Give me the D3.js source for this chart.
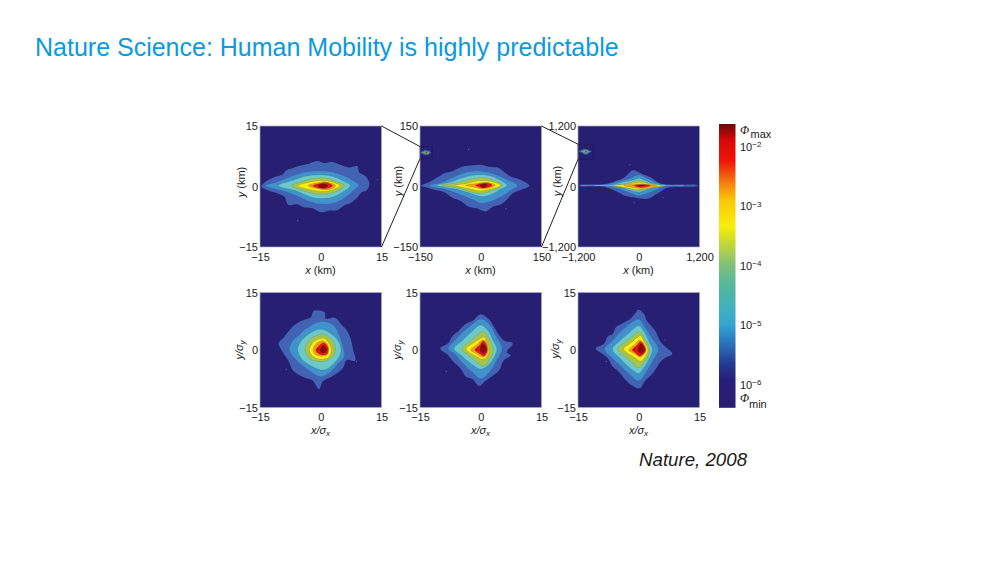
<!DOCTYPE html>
<html>
<head>
<meta charset="utf-8">
<script src="https://cdn.jsdelivr.net/npm/d3@7"></script>
<style>
  html, body { margin: 0; padding: 0; background: #fff; }
  text { font-family: "Liberation Sans", Arial, sans-serif; fill: #1a1a1a; }
</style>
</head>
<body>
<svg id="chart" width="1000" height="563"></svg>
<script>
// contour level colours, outermost first
var backgroundColor = "#261f72";
var levelColors = ["#4263b3", "#3f92cb", "#6cc9c9", "#a9c24b", "#f9ee11", "#f39a1c", "#e4161a", "#8a0c0c"];

var ticksKm15 = [-15, 0, 15];
var ticksKm150 = [-150, 0, 150];
var ticksKm1200 = [-1200, 0, 1200];
var ticksSigma = [-15, 0, 15];

// colorbar: [phi, colour]
var barTicks = [1e-2, 1e-3, 1e-4, 1e-5, 1e-6];
var phiMax = 10 ** -1.63, phiMin = 10 ** -6.4;
var barStops = [
  [10 ** -1.63, "#6e0808"], [10 ** -1.9, "#d80808"], [10 ** -2.25, "#ee1408"],
  [10 ** -2.66, "#f58a10"], [10 ** -2.92, "#f8c808"], [10 ** -3.34, "#f8ee0a"],
  [10 ** -3.58, "#cfdc2a"], [10 ** -4, "#80c07a"], [10 ** -4.3, "#58b89a"],
  [10 ** -4.75, "#40b0c0"], [10 ** -5, "#34a6d0"], [10 ** -5.34, "#2a70b8"],
  [10 ** -5.67, "#233a90"], [10 ** -5.92, "#271f78"], [10 ** -6.4, "#2a1f70"]
];

// contours in data units, level by level
var ringsKm15 = [
  [[-14.6,0.2],[-13,1.6],[-11,2.5],[-9.5,2.9],[-8.5,4],[-7,4.5],[-5,5.2],[-3,5.6],[-1,6.3],[1,5.8],[3,6.1],[5,5.3],[7,4.7],[9,5],[9.5,3.5],[11,2.6],[12,0.8],[11.5,-0.8],[10,-1.5],[9,-2.8],[7.5,-4],[6,-4.6],[4,-5.9],[2,-6],[0,-6.4],[-2,-5.4],[-4,-5.2],[-6,-4.4],[-8,-4.6],[-9,-2.5],[-11,-1.6],[-13,-1],[-14.6,-0.2]],
  [[-13.6,0.2],[-11,1],[-8.5,2],[-6,2.9],[-3.5,3.6],[0,3.8],[3,3.5],[5.5,2.7],[7.5,1.6],[9.3,0.4],[8,-1],[6,-2.7],[3,-4.1],[0,-4.3],[-3,-3.6],[-5.5,-2.5],[-8,-1.4],[-11,-0.6]],
  [[-10.5,0.2],[-7,1.5],[-3.5,2.6],[0,2.9],[3,2.5],[5.5,1.4],[7.3,0.2],[5.5,-1.3],[3,-2.6],[0,-3],[-3,-2.4],[-6,-1.1]],
  [[-7.2,0.2],[-4,1.4],[-1,2.1],[2,1.9],[4.3,1],[5.9,0.2],[4.3,-1],[2,-1.8],[-1,-1.9],[-4,-1.1]],
  [[-5.6,0.2],[-3,1],[0,1.5],[2.5,1.2],[4.7,0.2],[2.5,-0.9],[0,-1.2],[-3,-0.7]],
  [[-3.1,0.2],[-1,0.9],[1,1.2],[2.6,0.8],[3.7,0.2],[2.6,-0.6],[1,-0.8],[-1,-0.5]],
  [[-1.9,0.2],[0,0.8],[1.4,1],[2.9,0.2],[1.6,-0.5],[0,-0.5]],
  [[-0.7,0.2],[0.5,0.7],[1.8,0.2],[0.5,-0.4]]
];
var strayKm15 = [[-5.7,-8.5],[14,1.7]];

var ringsKm150 = [
  [[-148,2],[-125,12],[-105,24],[-90,33],[-70,38],[-50,48],[-25,52],[0,54],[20,49],[45,46],[60,34],[75,24],[95,18],[120,2],[100,-8],[80,-16],[65,-32],[50,-44],[30,-50],[12,-62],[-10,-54],[-30,-50],[-50,-36],[-70,-28],[-90,-14],[-115,-8],[-135,-2]],
  [[-125,2],[-95,10],[-75,20],[-50,30],[-20,37],[10,36],[40,28],[70,14],[90,3],[70,-12],[45,-28],[20,-38],[0,-41],[-25,-30],[-55,-18],[-85,-7]],
  [[-108,3],[-75,11],[-45,22],[-10,29],[25,26],[50,14],[65,3],[45,-9],[20,-22],[0,-25],[-25,-17],[-60,-7]],
  [[-96,3],[-60,9],[-30,17],[0,22],[25,18],[53,3],[25,-11],[0,-17],[-30,-12],[-60,-3]],
  [[-63,3],[-35,7],[-5,14],[20,13],[49,3],[22,-7],[0,-11],[-25,-6]],
  [[-38,3],[-15,7],[5,10],[22,9],[36,3],[20,-4],[5,-6],[-15,-2]],
  [[-13,3],[5,8],[15,9],[28,3],[15,-3],[0,-3]],
  [[-2,3],[7,7],[16,3],[7,-3]]
];
var strayKm150 = [[-30,92],[62,-55]];

var ringsKm1200 = [
  [[-1170,28],[-900,38],[-700,45],[-550,75],[-430,120],[-300,170],[-190,270],[-120,320],[-30,300],[90,240],[240,180],[360,95],[480,45],[700,30],[1160,30],[1160,8],[800,-5],[560,-25],[420,-110],[320,-170],[200,-240],[60,-245],[-80,-220],[-250,-190],[-380,-130],[-520,-60],[-700,-5],[-1170,12]],
  [[-1150,24],[-800,30],[-600,45],[-380,100],[-170,160],[0,230],[150,170],[320,85],[500,38],[900,26],[900,10],[500,2],[330,-70],[180,-130],[0,-180],[-160,-130],[-340,-60],[-600,5],[-1150,16]],
  [[-890,24],[-560,30],[-300,90],[-110,130],[0,165],[120,125],[320,50],[700,24],[340,8],[150,-70],[0,-110],[-170,-75],[-380,-10],[-890,16]],
  [[-590,20],[-300,50],[-100,100],[0,130],[120,90],[300,40],[565,20],[300,-25],[100,-65],[0,-80],[-150,-50],[-350,-10]],
  [[-490,20],[-250,40],[-50,75],[70,80],[240,50],[450,20],[240,-15],[70,-50],[-50,-60],[-250,-20]],
  [[-295,20],[-100,45],[60,55],[200,45],[365,20],[200,-15],[60,-40],[-100,-25]],
  [[-95,20],[50,40],[120,40],[235,20],[120,-10],[50,-20]],
  [[-40,20],[50,32],[135,20],[50,5]]
];
var strayKm1200 = [[-175,430],[480,-220],[-95,-320]];

var ringsSigmaA = [
  [[-10.4,1.8],[-9.2,3.2],[-7,6],[-5,7.5],[-2.4,8.6],[-1.8,10.2],[1,9.8],[1.2,8.2],[3.5,8.4],[5,6.8],[6.5,5],[7.5,2.5],[8,0],[8.5,-2.8],[6.4,-2.6],[5.5,-4.6],[3,-6.8],[0.5,-8.2],[-0.4,-10.2],[-2,-8],[-4,-7.2],[-6.8,-5.4],[-8,-2.8],[-9.5,-0.4]],
  [[-7.7,0.2],[-7,2.2],[-5.2,4],[-3.2,5.8],[0,7.4],[3,6.5],[4.6,3.6],[5.4,1],[5.8,-1.5],[4.2,-3.6],[2,-6],[0,-6.9],[-3,-5.2],[-5.4,-3.2],[-7,-1.4]],
  [[-5.7,0.2],[-4.8,2.4],[-2.6,4.4],[0,5.4],[2.6,4.2],[4.4,2.2],[5,-0.4],[4,-2.6],[1.8,-4.8],[0,-5.2],[-2.6,-4],[-4.8,-2.2]],
  [[-3.9,0.2],[-3.2,2.2],[-1.4,3.6],[0.6,4.2],[2.4,3],[3.6,0.8],[3.2,-1.4],[1.4,-2.8],[-0.6,-3],[-2.8,-2.2]],
  [[-2.8,0],[-2,1.8],[-0.6,2.8],[0.8,3],[2,1.8],[2.6,0],[2,-1.8],[0,-2.4],[-2,-1.6]],
  [[-1.9,0],[-1.2,1.6],[0.4,2.4],[1.6,1.6],[2,0],[1.4,-1.4],[0,-1.6],[-1.4,-1.1]],
  [[-1.2,0],[-0.2,1.4],[0.8,1.9],[1.8,0.6],[1.6,-1],[0.4,-1.3],[-0.8,-0.8]],
  [[-0.2,0],[0.6,1.2],[1.5,0.2],[0.6,-0.9]]
];
var straySigmaA = [[8.8,-3],[-8.5,-5]];
var spotsSigmaA = [[-0.8,0.1]];

var ringsSigmaB = [
  [[-10,0.4],[-8,1.8],[-7,3.6],[-5.6,4.8],[-4,6.6],[-2,7.6],[0,9.3],[2,8],[3.4,5.8],[4.6,3.8],[5.8,2.4],[7.9,1.8],[6.4,-0.6],[7.4,-1.4],[5.6,-2.8],[4.6,-5.2],[2.6,-7],[0.8,-8.4],[-0.4,-9.4],[-2,-7.6],[-3.6,-7],[-5,-4.8],[-6.8,-3],[-8.2,-1.2]],
  [[-8,0.4],[-6.2,2.6],[-4.4,4.6],[-2.4,6.4],[0,8],[2.2,6.6],[3.6,3.8],[5.2,0.4],[3.6,-3.2],[2.2,-5.6],[0,-7.4],[-2.4,-5.4],[-4.8,-3],[-6.4,-1]],
  [[-6.6,0.4],[-4.6,2.4],[-2.4,4.6],[0,6.5],[1.8,5],[3,2.6],[4,0.2],[3,-2.4],[1.6,-4.2],[0,-5],[-2.6,-3.4],[-4.8,-1.4]],
  [[-4.7,0.2],[-2.8,2.2],[-1,3.8],[0.6,4.8],[1.8,3.4],[3.1,0.2],[2.4,-2.2],[0.8,-4.2],[-1.2,-3],[-3,-1.4]],
  [[-3.6,0.2],[-1.8,1.8],[0,3],[0.8,3.3],[1.6,2],[2.1,0],[1.6,-1.6],[0.6,-2.4],[-1.2,-1.6]],
  [[-2.5,0],[-1,1.4],[0.4,2.6],[1.2,2.4],[1.9,0],[1.3,-1.4],[0.4,-1.9],[-1,-1]],
  [[-1.4,0],[-0.2,1.4],[0.6,2.4],[1.4,1.4],[1.6,-0.2],[0.8,-1.6],[-0.2,-1]],
  [[-0.2,0],[0.5,1.7],[1.5,0.2],[0.6,-1]]
];
var straySigmaB = [[7.6,1.2],[-8.5,-5.6]];
var spotsSigmaB = [[-1,0.1]];

var ringsSigmaC = [
  [[-10.6,0.4],[-8.6,1.6],[-7.6,3.6],[-6.4,4.2],[-5.6,6],[-4,7],[-2.2,8],[-1,9.4],[0,10.5],[1.4,9.2],[2,7.6],[3,6.4],[4.2,4.8],[5,2.8],[6,1.4],[8.3,-1],[6.6,-2],[5.4,-3],[4.4,-4.6],[3.2,-6.4],[1.6,-8],[0.2,-10],[-2,-9],[-3.4,-7.6],[-5.2,-5.4],[-6.4,-4.4],[-7.6,-2.2],[-9,-1]],
  [[-8.4,0.2],[-6.6,2.2],[-4.6,4.6],[-2.6,6.4],[0,8],[1.6,5.8],[3,3.4],[4.8,0.2],[3.4,-2.8],[1.6,-6],[0,-8],[-2.2,-6.4],[-4.6,-4],[-6.6,-2]],
  [[-6.5,0.2],[-4.4,2.6],[-2.2,4.6],[0,6.3],[1.4,4.6],[2.6,2],[3.4,0],[2.4,-2.6],[1,-5],[0,-6.1],[-2,-4.8],[-4.6,-2.2]],
  [[-5.2,0.2],[-3.2,2.2],[-1.2,3.8],[0.2,4.8],[1.4,3],[2.7,0],[2,-2.2],[0.8,-4],[0,-4.6],[-1.8,-3.2],[-3.8,-1.4]],
  [[-3.7,0.2],[-2,1.8],[-0.4,3.2],[0.4,3.7],[1.4,2],[2.3,0],[1.6,-1.6],[0.6,-2.9],[-1.2,-1.8]],
  [[-2.4,0],[-1,1.4],[0.2,2.6],[1.2,1.8],[1.9,0],[1.2,-1.2],[0.4,-1.9],[-1,-1]],
  [[-1.6,0],[-0.4,1.3],[0.4,2.2],[1.3,1.2],[1.7,-0.1],[1,-1.2],[0.2,-1.6],[-0.8,-0.8]],
  [[-0.3,0],[0.5,1.6],[1.5,0.2],[0.6,-1]]
];
var straySigmaC = [[6.5,2.6],[-8,-3]];
var spotsSigmaC = [[-1.1,0.1]];

var svg = d3.select("#chart");
var defs = svg.append("defs");
defs.append("filter").attr("id", "soft")
  .attr("x", "-5%").attr("y", "-5%").attr("width", "110%").attr("height", "110%")
  .append("feGaussianBlur").attr("stdDeviation", 0.6);

svg.append("text")
  .attr("x", 35).attr("y", 55.5)
  .style("font-size", "25px")
  .style("fill", "#0a9ade")
  .text("Nature Science: Human Mobility is highly predictable");

svg.append("text")
  .attr("x", 639).attr("y", 466)
  .style("font-size", "18.7px")
  .style("font-style", "italic")
  .text("Nature, 2008");

function fmtTick(d) {
  var s = d3.format(",")(Math.abs(d));
  return d < 0 ? "\u2212" + s : s;
}

function drawRings(g, rings, stray, spots, x, y) {
  var line = d3.line().x(d => x(d[0])).y(d => y(d[1])).curve(d3.curveCatmullRomClosed.alpha(0.5));
  g.selectAll("circle.stray").data(stray).join("circle")
    .attr("class", "stray")
    .attr("cx", d => x(d[0])).attr("cy", d => y(d[1]))
    .attr("r", 0.7)
    .attr("fill", levelColors[0]);
  g.selectAll("path.ring").data(rings).join("path")
    .attr("class", "ring")
    .attr("d", line)
    .attr("fill", (d, i) => levelColors[i])
    .attr("stroke", (d, i) => i > 1 ? "rgba(50,60,50,0.35)" : "none")
    .attr("stroke-width", 0.4);
  g.selectAll("circle.spot").data(spots).join("circle")
    .attr("class", "spot")
    .attr("cx", d => x(d[0])).attr("cy", d => y(d[1]))
    .attr("r", 0.9)
    .attr("fill", levelColors[7]);
}

function drawPanel(p) {
  var x = d3.scaleLinear().domain([p.ticks[0], p.ticks[2]]).range([p.left, p.left + 121.5]);
  var y = d3.scaleLinear().domain([p.ticks[0], p.ticks[2]]).range([p.top + p.size, p.top]);
  var clipId = "clip" + p.left + "-" + p.top;
  defs.append("clipPath").attr("id", clipId).append("rect")
    .attr("x", p.left).attr("y", p.top).attr("width", 121.5).attr("height", p.size);

  svg.append("rect")
    .attr("x", p.left).attr("y", p.top).attr("width", 121.5).attr("height", p.size)
    .attr("fill", backgroundColor);

  var g = svg.append("g").attr("clip-path", "url(#" + clipId + ")")
    .append("g").attr("filter", "url(#soft)");
  drawRings(g, p.rings, p.stray, p.spots, x, y);

  svg.append("rect")
    .attr("x", p.left).attr("y", p.top).attr("width", 121.5).attr("height", p.size)
    .attr("fill", "none").attr("stroke", "#a9a9c0").attr("stroke-width", 0.7);

  var xAxis = svg.append("g")
    .attr("transform", "translate(0," + (p.top + p.size) + ")")
    .call(d3.axisBottom(x).tickValues(p.ticks).tickFormat(fmtTick).tickSize(0).tickPadding(6));
  var yAxis = svg.append("g")
    .attr("transform", "translate(" + p.left + ",0)")
    .call(d3.axisLeft(y).tickValues(p.ticks).tickFormat(fmtTick).tickSize(0).tickPadding(2));
  [xAxis, yAxis].forEach(a => {
    a.select(".domain").remove();
    a.selectAll("text").style("font-size", "11px").style("font-family", "'Liberation Sans'").attr("fill", "#1a1a1a");
  });

  // x and y captions
  var xl = svg.append("text")
    .attr("x", p.left + 60.5).attr("y", p.top + p.size + (p.sigma ? 26 : 27))
    .attr("text-anchor", "middle").style("font-size", "11px");
  var yl = svg.append("text")
    .attr("transform", "translate(" + p.yLabelX + "," + p.yLabelY + ") rotate(-90)")
    .attr("text-anchor", "middle").style("font-size", "11px");
  if (p.sigma) {
    [[xl, "x"], [yl, "y"]].forEach(c => {
      c[0].append("tspan").style("font-style", "italic").text(c[1] + "/\u03c3");
      c[0].append("tspan").style("font-style", "italic").style("font-size", "8px").attr("dy", 2).text(c[1]);
    });
  } else {
    [[xl, "x"], [yl, "y"]].forEach(c => {
      c[0].append("tspan").style("font-style", "italic").text(c[1]);
      c[0].append("tspan").text(" (km)");
    });
  }

  // the small box is the previous panel's window, drawn in this panel's units
  if (p.inset) {
    var half = p.inset.half;
    var k = half / p.inset.ticks[2];
    var cx = p.inset.cx, cy = p.inset.cy;
    var ix = v => x(cx + v), iy = v => y(cy + v);
    var sx = v => ix(v * k), sy = v => iy(v * k);
    var ig = svg.append("g").attr("filter", "url(#soft)");
    drawRings(ig, p.inset.rings, [], [], sx, sy);
    svg.append("rect")
      .attr("x", ix(-half)).attr("y", iy(half))
      .attr("width", ix(half) - ix(-half)).attr("height", iy(-half) - iy(half))
      .attr("fill", "none").attr("stroke", "#1c1758").attr("stroke-width", 0.6);
    svg.append("line")
      .attr("x1", p.inset.fromX).attr("y1", p.inset.fromTop)
      .attr("x2", ix(-half)).attr("y2", iy(half))
      .attr("stroke", "#222").attr("stroke-width", 1);
    svg.append("line")
      .attr("x1", p.inset.fromX).attr("y1", p.inset.fromTop + p.size)
      .attr("x2", ix(-half)).attr("y2", iy(-half))
      .attr("stroke", "#222").attr("stroke-width", 1);
  }
}

var topRow = 126, bottomRow = 292.5;
drawPanel({ left: 260, top: topRow, size: 121, ticks: ticksKm15, rings: ringsKm15, stray: strayKm15, spots: [], yLabelX: 245, yLabelY: 182 });
drawPanel({ left: 420, top: topRow, size: 121, ticks: ticksKm150, rings: ringsKm150, stray: strayKm150, spots: [], yLabelX: 402, yLabelY: 181,
  inset: { cx: -135, cy: 84, half: 15, ticks: ticksKm15, rings: ringsKm15, fromX: 381.5, fromTop: topRow } });
drawPanel({ left: 578, top: topRow, size: 121, ticks: ticksKm1200, rings: ringsKm1200, stray: strayKm1200, spots: [], yLabelX: 561, yLabelY: 181,
  inset: { cx: -1050, cy: 690, half: 150, ticks: ticksKm150, rings: ringsKm150, fromX: 541.5, fromTop: topRow } });
drawPanel({ left: 260, top: bottomRow, size: 115, ticks: ticksSigma, rings: ringsSigmaA, stray: straySigmaA, spots: spotsSigmaA, sigma: true, yLabelX: 243, yLabelY: 350 });
drawPanel({ left: 420, top: bottomRow, size: 115, ticks: ticksSigma, rings: ringsSigmaB, stray: straySigmaB, spots: spotsSigmaB, sigma: true, yLabelX: 401, yLabelY: 350 });
drawPanel({ left: 578, top: bottomRow, size: 115, ticks: ticksSigma, rings: ringsSigmaC, stray: straySigmaC, spots: spotsSigmaC, sigma: true, yLabelX: 559, yLabelY: 349 });

// colorbar on a log scale
var barY = d3.scaleLog().domain([1e-6, 1e-2]).range([384, 146]);
var barTop = barY(phiMax), barBottom = barY(phiMin);
var grad = defs.append("linearGradient").attr("id", "phiGrad")
  .attr("x1", 0).attr("x2", 0).attr("y1", 0).attr("y2", 1);
grad.selectAll("stop").data(barStops).join("stop")
  .attr("offset", d => (barY(d[0]) - barTop) / (barBottom - barTop))
  .attr("stop-color", d => d[1]);
svg.append("rect")
  .attr("x", 719).attr("y", barTop).attr("width", 16.5).attr("height", barBottom - barTop)
  .attr("fill", "url(#phiGrad)");

var barLabels = svg.append("g").selectAll("text").data(barTicks).join("text")
  .attr("x", 740).attr("y", d => barY(d) + 4.5)
  .style("font-size", "11px");
barLabels.append("tspan").text("10");
barLabels.append("tspan").attr("dy", -3.5).style("font-size", "8px")
  .text(d => "\u2212" + Math.round(-Math.log10(d)));

var phiLabels = [["max", 134, 138], ["min", 402, 408]];
phiLabels.forEach(l => {
  svg.append("text").attr("x", 740).attr("y", l[1])
    .style("font-family", "'Liberation Serif'").style("font-style", "italic").style("font-size", "12px")
    .text("\u03a6");
  svg.append("text").attr("x", l[0] == "max" ? 750.5 : 749).attr("y", l[2])
    .style("font-size", "11px").text(l[0]);
});
</script>
</body>
</html>
